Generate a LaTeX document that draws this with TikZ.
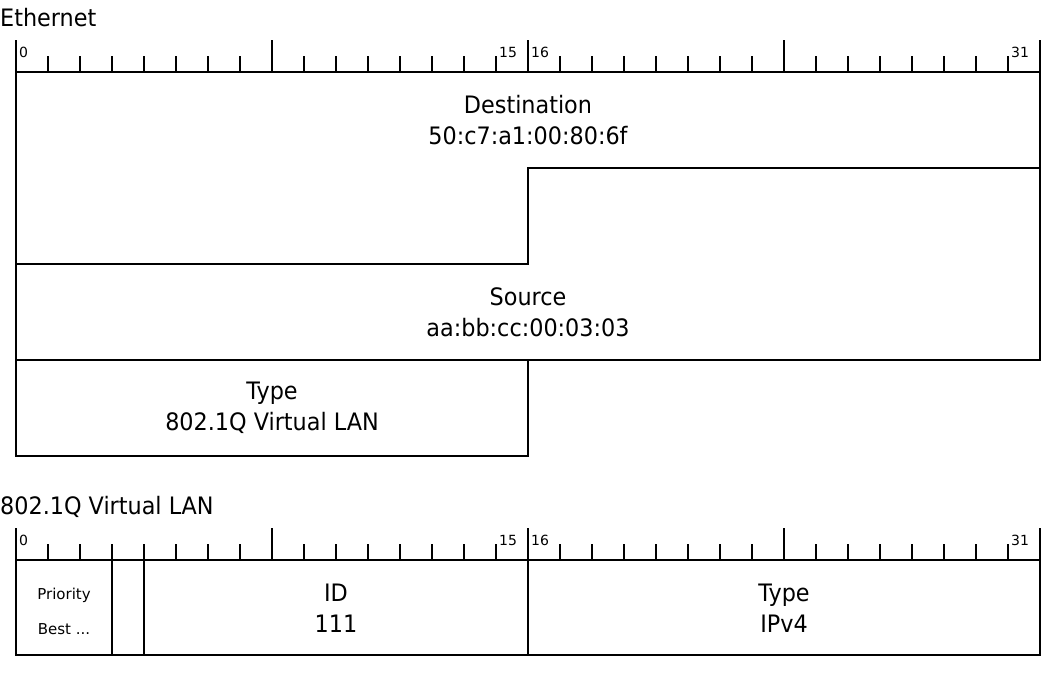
\documentclass[tikz,border=0pt]{standalone}
\usepackage{fontspec}
\setmainfont{DejaVu Sans}[FakeStretch=0.93]
\newfontfamily\plainsans{DejaVu Sans}
\tikzset{
  field/.style={draw, line width=2pt},
  tickline/.style={line width=2pt},
  lbl/.style={font=\fontsize{24}{31}\selectfont, align=center, inner sep=0pt},
  smalllbl/.style={font=\plainsans\fontsize{15}{35}\selectfont, align=center, inner sep=0pt},
  bitnum/.style={font=\plainsans\fontsize{14}{16}\selectfont, anchor=base west, inner sep=0pt},
  titlelbl/.style={font=\fontsize{24}{28}\selectfont, anchor=base west, inner sep=0pt},
}
\newcommand{\myruler}[1]{%
  \draw[tickline] (16,#1) -- (1040,#1);
  \foreach \b in {1,...,31}{\draw[tickline] ({16+32*\b},#1) -- ({16+32*\b},{#1-16});}
  \foreach \b in {0,8,16,24,32}{\draw[tickline] ({16+32*\b},#1) -- ({16+32*\b},{#1-32});}
  \node[bitnum] at (19,{#1-15}) {0};
  \node[bitnum] at (499,{#1-15}) {15};
  \node[bitnum] at (531,{#1-15}) {16};
  \node[bitnum] at (1011,{#1-15}) {31};
}
\begin{document}
\begin{tikzpicture}[x=1pt,y=-1pt]
\useasboundingbox (0,0) rectangle (1050,681);
% Ethernet
\node[titlelbl] (ethtitle) at (0,26.5) {Ethernet};
\myruler{72}
\draw[field] (16,72) -- (16,456) -- (528,456) -- (528,360);
\draw[field] (1040,72) -- (1040,360) -- (16,360);
\draw[field] (16,264) -- (528,264) -- (528,168) -- (1040,168);
\node[lbl] (dst) at (528,120) {Destination\\50:c7:a1:00:80:6f};
\node[lbl] (src) at (528,312) {Source\\aa:bb:cc:00:03:03};
\node[lbl] (etype) at (272,408) {Type\\802.1Q Virtual LAN};
% 802.1Q
\node[titlelbl] (vlantitle) at (0,514) {802.1Q Virtual LAN};
\myruler{560}
\draw[field] (16,560) rectangle (1040,655);
\draw[field] (112,560) -- (112,655);
\draw[field] (144,560) -- (144,655);
\draw[field] (528,560) -- (528,655);
\node[smalllbl] (prio) at (64,611) {Priority\\Best ...};
\node[lbl] (vid) at (336,608) {ID\\111};
\node[lbl] (vtype) at (784,608) {Type\\IPv4};
\end{tikzpicture}
\end{document}
